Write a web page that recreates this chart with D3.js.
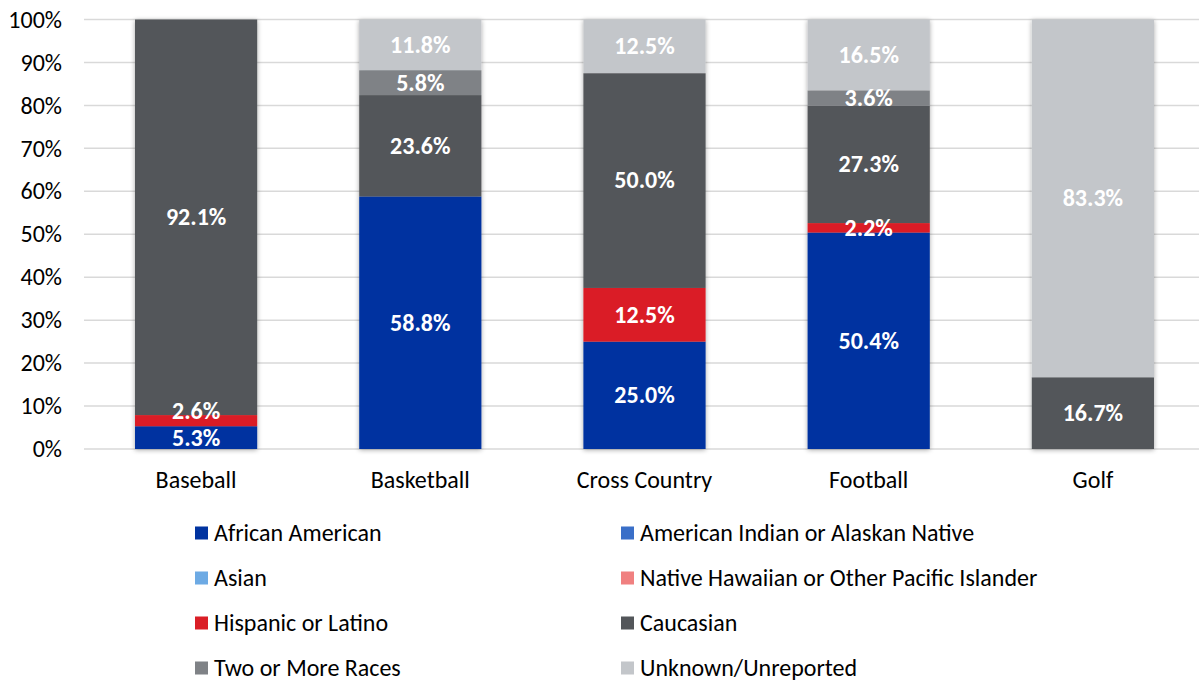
<!DOCTYPE html>
<html><head><meta charset="utf-8">
<script src="https://cdn.jsdelivr.net/npm/d3@7"></script>
<style>body{margin:0;background:#fff}svg{display:block}text{font-family:Carlito,Calibri,"Open Sans",sans-serif}</style>
</head><body><svg id="c" width="1199" height="681"></svg>
<script>
const categories = ["Baseball","Basketball","Cross Country","Football","Golf"];
const seriesNames = ["African American","American Indian or Alaskan Native","Asian","Native Hawaiian or Other Pacific Islander","Hispanic or Latino","Caucasian","Two or More Races","Unknown/Unreported"];
const africanAmerican = [5.3,58.8,25.0,50.4,0];
const americanIndian = [0,0,0,0,0];
const asian = [0,0,0,0,0];
const nativeHawaiian = [0,0,0,0,0];
const hispanic = [2.6,0,12.5,2.2,0];
const caucasian = [92.1,23.6,50.0,27.3,16.7];
const twoOrMore = [0,5.8,0,3.6,0];
const unknown = [0,11.8,12.5,16.5,83.3];
const yTicks = [0,10,20,30,40,50,60,70,80,90,100];
const colors = ["#0033A0","#3A6FC8","#6DAAE4","#F08080","#DA1E26","#53565A","#7F8286","#C3C6CA"];

const seriesVals = [africanAmerican,americanIndian,asian,nativeHawaiian,hispanic,caucasian,twoOrMore,unknown];
const rows = categories.map((c,i)=>{const o={cat:c};seriesNames.forEach((s,j)=>o[s]=seriesVals[j][i]);return o;});
const stack = d3.stack().keys(seriesNames)(rows);

const FONT = 'Carlito,Calibri,"Open Sans",sans-serif';
const svg = d3.select("#c");
const m = {left:84, right:1205, top:19.5, bottom:449};
const x = d3.scaleBand().domain(categories).range([m.left,m.right]).paddingInner(0.455).paddingOuter(0.2275);
const y = d3.scaleLinear().domain([0,100]).range([m.bottom,m.top]);

const defs = svg.append("defs");
const f = defs.append("filter").attr("id","sh").attr("x","-20%").attr("y","-5%").attr("width","140%").attr("height","110%");
f.append("feGaussianBlur").attr("in","SourceAlpha").attr("stdDeviation",2.5).attr("result","b");
f.append("feOffset").attr("in","b").attr("dx",0).attr("dy",1).attr("result","o");
f.append("feComponentTransfer").attr("in","o").attr("result","o2").append("feFuncA").attr("type","linear").attr("slope",0.35);
const mg = f.append("feMerge"); mg.append("feMergeNode").attr("in","o2"); mg.append("feMergeNode").attr("in","SourceGraphic");

// grid
svg.append("g").selectAll("line").data(yTicks).join("line")
  .attr("x1",m.left).attr("x2",1199).attr("y1",d=>y(d)).attr("y2",d=>y(d))
  .attr("stroke","#d9d9d9").attr("stroke-width",1.5);

// y axis labels
const yAxis = d3.axisLeft(y).tickValues(yTicks).tickFormat(d=>d+"%").tickSize(0).tickPadding(0);
const ya = svg.append("g").attr("transform","translate(62,0)").call(yAxis);
ya.select(".domain").remove();
ya.selectAll("text").attr("font-size",24).attr("fill","#000").attr("font-family",FONT);

// x axis labels
const xAxis = d3.axisBottom(x).tickSize(0).tickPadding(0);
const xa = svg.append("g").attr("transform","translate(0,471)").call(xAxis);
xa.select(".domain").remove();
xa.selectAll("text").attr("font-size",24).attr("fill","#000").attr("font-family",FONT);

// bars
const barG = svg.append("g").attr("filter","url(#sh)");
stack.forEach((s,j)=>{
  barG.append("g").attr("fill",colors[j]).selectAll("rect").data(s.filter(d=>d[1]-d[0]>0)).join("rect")
    .attr("x",d=>x(d.data.cat)).attr("width",x.bandwidth())
    .attr("y",d=>y(d[1])).attr("height",d=>y(d[0])-y(d[1]));
});

// labels
const nudge = {"Baseball|Hispanic or Latino":-10};
const lg = svg.append("g");
stack.forEach((s,j)=>{
  s.forEach(d=>{
    const v = d[1]-d[0]; if(v<=0) return;
    const k = d.data.cat+"|"+s.key;
    lg.append("text").attr("x",x(d.data.cat)+x.bandwidth()/2)
      .attr("y",y((d[0]+d[1])/2)+(nudge[k]||0)).attr("dy","0.33em")
      .attr("text-anchor","middle").attr("font-size",24).attr("font-weight","bold").attr("fill","#fff")
      .text(v.toFixed(1)+"%");
  });
});

// legend
const leg = svg.append("g");
seriesNames.forEach((s,i)=>{
  const col = i%2, row = Math.floor(i/2);
  const lx = col===0?195:621, ly = 533+row*45;
  leg.append("rect").attr("x",lx).attr("y",ly-6.5).attr("width",13).attr("height",13).attr("fill",colors[i]);
  leg.append("text").attr("x",lx+19).attr("y",ly).attr("dy","0.33em").attr("font-size",24).attr("fill","#000").text(s);
});
</script></body></html>
